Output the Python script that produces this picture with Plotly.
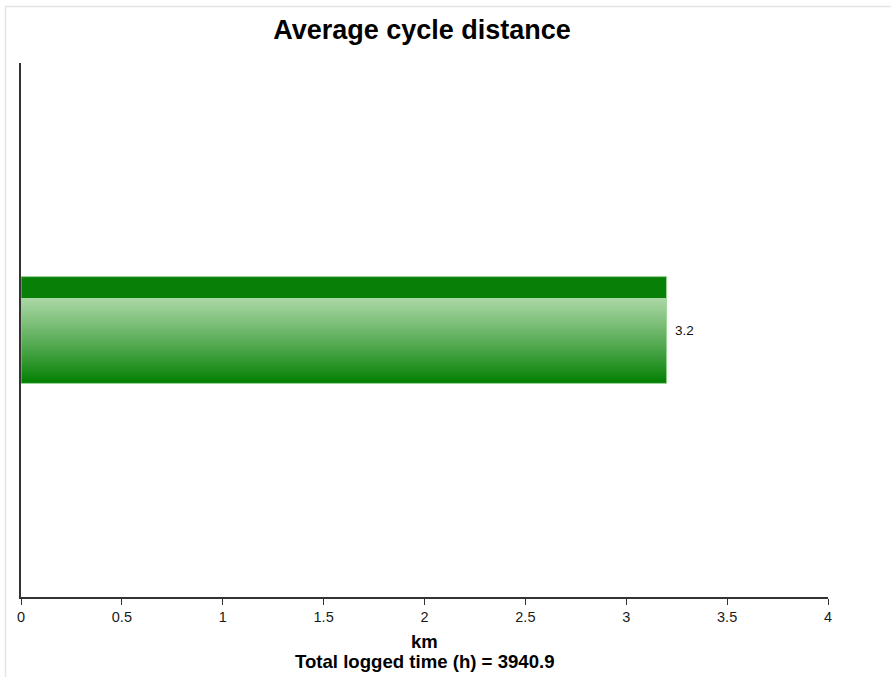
import plotly.graph_objects as go

# Chart data
categories = ["Average cycle distance"]
avg_distance_km = [3.2]
total_logged_hours = 3940.9
x_ticks = [0, 0.5, 1, 1.5, 2, 2.5, 3, 3.5, 4]
x_tick_labels = ["0", "0.5", "1", "1.5", "2", "2.5", "3", "3.5", "4"]

FONT = "Liberation Sans, Arial, sans-serif"
BAR_W = 0.2          # bar thickness in category units
BAND = 0.04          # dark cap band along the top edge
N_STEPS = 60         # slices used to render the vertical gradient


def mix(c1, c2, t):
    return "rgb(%d,%d,%d)" % tuple(round(a + (b - a) * t) for a, b in zip(c1, c2))


light = (171, 215, 166)
dark = (0, 126, 0)

fig = go.Figure()

# Gradient body of each bar, built from thin overlapping slices
for cat, val in zip(categories, avg_distance_km):
    lo = -BAR_W / 2
    grad_h = BAR_W - BAND
    step = grad_h / N_STEPS
    offsets, widths, colors = [], [], []
    for i in range(N_STEPS):
        offsets.append(lo + i * step)
        widths.append(step * 1.6)
        t = i / (N_STEPS - 1)          # 0 at bottom, 1 at top
        colors.append(mix(dark, light, t ** 0.9))
    # dark band at the top
    offsets.append(lo + grad_h)
    widths.append(BAND)
    colors.append("rgb(8,128,8)")
    fig.add_trace(go.Bar(
        x=[val] * len(offsets), y=[cat] * len(offsets),
        orientation="h", offset=offsets, width=widths,
        marker=dict(color=colors, line=dict(width=0)),
        hoverinfo="skip", showlegend=False,
    ))

# Outline of each bar
fig.add_trace(go.Bar(
    x=avg_distance_km, y=categories, orientation="h",
    width=BAR_W, offset=-BAR_W / 2,
    marker=dict(color="rgba(0,0,0,0)",
                line=dict(color="rgba(160,215,155,0.9)", width=1)),
    hoverinfo="skip", showlegend=False,
))

# Value labels just past the bar ends
annotations = [
    dict(x=val, y=cat, xref="x", yref="y", text=f"{val:g}",
         xanchor="left", yanchor="middle", xshift=6, showarrow=False,
         font=dict(family=FONT, size=13.5, color="#111"))
    for cat, val in zip(categories, avg_distance_km)
]

# Axis caption lines below the x axis
annotations += [
    dict(x=0.5, y=-0.0824, xref="paper", yref="paper", text="<b>km</b>",
         xanchor="center", yanchor="middle", showarrow=False,
         font=dict(family=FONT, size=18.5, color="#000")),
    dict(x=0.5, y=-0.1217, xref="paper", yref="paper",
         text=f"<b>Total logged time (h) = {total_logged_hours}</b>",
         xanchor="center", yanchor="middle", showarrow=False,
         font=dict(family=FONT, size=18.6, color="#000")),
]

fig.update_layout(
    width=891, height=677,
    margin=dict(l=21, r=63, t=63, b=80),
    paper_bgcolor="white", plot_bgcolor="white",
    barmode="overlay",
    font=dict(family=FONT, color="#222"),
    title=dict(text="<b>Average cycle distance</b>", x=422 / 891, xanchor="center",
               y=0.956, yanchor="middle",
               font=dict(family=FONT, size=27, color="#000")),
    xaxis=dict(
        range=[0, 4], tickvals=x_ticks, ticktext=x_tick_labels,
        showgrid=False, zeroline=False,
        showline=True, linecolor="#333", linewidth=2,
        ticks="outside", ticklen=6, tickwidth=1, tickcolor="#333",
        tickfont=dict(family=FONT, size=14.5, color="#1a1a1a"),
    ),
    yaxis=dict(
        range=[-0.5, 0.5], showticklabels=False, ticks="",
        showgrid=False, zeroline=False,
        showline=True, linecolor="#333", linewidth=2,
    ),
    annotations=annotations,
    shapes=[
        # light frame along the top and left page edges
        dict(type="line", xref="paper", yref="paper",
             x0=-0.0192, x1=1.1, y0=1.1058, y1=1.1058,
             line=dict(color="#e4e4e4", width=1.5)),
        dict(type="line", xref="paper", yref="paper",
             x0=-0.0192, x1=-0.0192, y0=1.1058, y1=-0.2,
             line=dict(color="#e4e4e4", width=1.5)),
    ],
)

fig.write_html("out.html")
